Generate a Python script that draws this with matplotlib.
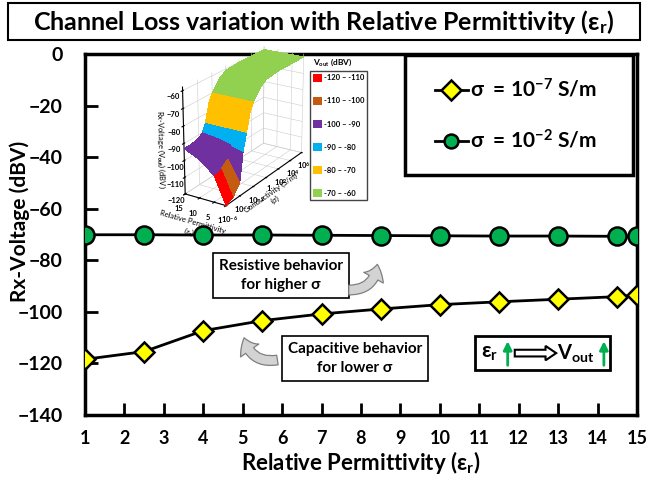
import matplotlib
matplotlib.use('Agg')
import matplotlib.pyplot as plt
import numpy as np
from matplotlib.colors import ListedColormap, BoundaryNorm
from matplotlib.patches import Rectangle, FancyArrow, FancyArrowPatch, Patch
from mpl_toolkits.mplot3d import Axes3D  # noqa

plt.rcParams['font.family'] = ['Lato', 'DejaVu Sans']
plt.rcParams['font.weight'] = 'bold'
plt.rcParams['mathtext.fontset'] = 'custom'
plt.rcParams['mathtext.rm'] = 'Lato:bold'
plt.rcParams['mathtext.it'] = 'Lato:bold'
plt.rcParams['mathtext.bf'] = 'Lato:bold'

# main chart data
eps_r = [1, 2.5, 4, 5.5, 7, 8.5, 10, 11.5, 13, 14.5, 15]
v_low_sigma = [-118.4, -115.4, -107.3, -103.4, -100.8, -98.9, -97.2, -96.1, -95.1, -94.1, -93.5]
v_high_sigma = [-70.1, -70.1, -70.2, -70.2, -70.3, -70.4, -70.5, -70.6, -70.6, -70.7, -70.7]
x_ticks = list(range(1, 16))
y_ticks = list(range(-140, 1, 20))

# inset surface data (log10 sigma vs eps_r)
inset_logsig = [-6, -5, -4, -3.5, -3, -2.5, -2, -1, 0, 2, 4, 6]
inset_eps = [1, 5, 10, 15]
inset_v = [
    [-120, -118, -112, -95, -85, -75, -70, -64, -61, -60, -60, -60],
    [-104, -103, -100, -93, -85, -75, -70, -64, -61, -60, -60, -60],
    [-97, -96, -95, -91, -85, -75, -70, -64, -61, -60, -60, -60],
    [-93, -93, -92, -90, -85, -75, -70, -64, -61, -60, -60, -60],
]
band_edges = [-120, -110, -100, -90, -80, -70, -60]
band_colors = ['#FF0000', '#C55A11', '#7030A0', '#00B0F0', '#FFC000', '#92D050']
band_labels = ['-120 \u2013 -110', '-110 \u2013 -100', '-100 \u2013 -90',
               '-90 \u2013 -80', '-80 \u2013 -70', '-70 \u2013 -60']

W, H = 646, 487
fig = plt.figure(figsize=(W / 100, H / 100), dpi=100)
ax = fig.add_axes([85 / W, 1 - 415 / H, (637 - 85) / W, (415 - 54) / H])

ax.plot(eps_r, v_high_sigma, '-', color='black', lw=2, marker='o', ms=13,
        mfc='#00B050', mec='black', mew=1.8, label='\u03c3  = 10$^{-2}$ S/m', zorder=4)
ax.plot(eps_r, v_low_sigma, '-', color='black', lw=2, marker='D', ms=10.5,
        mfc='#FFFF00', mec='black', mew=1.8, label='\u03c3  = 10$^{-7}$ S/m', zorder=4)

ax.set_xlim(1, 15)
ax.set_ylim(-140, 0)
ax.set_xticks(x_ticks)
ax.set_yticks(y_ticks)
ax.tick_params(axis='both', direction='in', length=9, width=2, labelsize=14)
ax.tick_params(axis='y', pad=16)
ax.tick_params(axis='x', pad=11, labelsize=13)
for s in ax.spines.values():
    s.set_linewidth(2.5)
for lbl in ax.get_xticklabels() + ax.get_yticklabels():
    lbl.set_fontweight('bold')
ax.set_xlabel('Relative Permittivity (\u03b5$_r$)', fontsize=16, fontweight='bold', labelpad=1)
ax.set_ylabel('Rx-Voltage (dBV)', fontsize=15, fontweight='bold')
ax.yaxis.set_label_coords(-0.1, 0.535)

# legend in its own box
ax.add_patch(Rectangle((0.58, 0.665), 0.413, 0.332, transform=ax.transAxes,
                       fc='white', ec='black', lw=2.5, zorder=6))
h, l = ax.get_legend_handles_labels()
leg = ax.legend(h[::-1], l[::-1], loc='center', bbox_to_anchor=(0.78, 0.831),
                handlelength=1.6, handletextpad=0.1, labelspacing=1.35,
                frameon=False, prop={'weight': 'bold', 'size': 15})
leg.set_zorder(7)
for hd in leg.legend_handles:
    hd.set_markersize(10)

# title
fig.patches.append(Rectangle((8 / W, 1 - 40 / H), 632 / W, 37 / H, transform=fig.transFigure,
                             fc='white', ec='black', lw=1.5))
fig.text(324 / W, 1 - 22 / H, 'Channel Loss variation with Relative Permittivity (\u03b5$_r$)',
         ha='center', va='center', fontsize=18, fontweight='bold')

# annotations
box = dict(boxstyle='square,pad=0.4', fc='white', ec='black', lw=1.2)
ax.text(5.97, -86, 'Resistive behavior\nfor higher \u03c3', ha='center', va='center',
        fontsize=11, fontweight='bold', bbox=box, linespacing=1.45)
ax.text(7.85, -118, 'Capacitive behavior\nfor lower \u03c3', ha='center', va='center',
        fontsize=11, fontweight='bold', bbox=box, linespacing=1.45)
arrow_style = 'simple,head_width=16,head_length=10,tail_width=7'
ax.add_patch(FancyArrowPatch((7.62, -91.5), (8.42, -80.5), connectionstyle='arc3,rad=0.5',
                             arrowstyle=arrow_style, fc='#D3D3D3', ec='#7F7F7F', lw=0.9,
                             mutation_scale=1, zorder=5))
ax.add_patch(FancyArrowPatch((5.95, -118.5), (5.02, -109), connectionstyle='arc3,rad=-0.5',
                             arrowstyle=arrow_style, fc='#D3D3D3', ec='#7F7F7F', lw=0.9,
                             mutation_scale=1, zorder=5))

# eps_r up => Vout up box
ax.add_patch(Rectangle((10.9, -122.6), 3.42, 13.2, fc='white', ec='black', lw=2, zorder=5))
ax.text(11.05, -116, '\u03b5$_r$', ha='left', va='center', fontsize=15, fontweight='bold', zorder=6)
ax.annotate('', xy=(11.72, -110.3), xytext=(11.72, -121.8),
            arrowprops=dict(arrowstyle='-|>,head_width=0.25,head_length=0.5', color='#00B050', lw=2), zorder=6)
ax.add_patch(FancyArrow(11.9, -116, 0.78, 0, width=2.6, head_width=5.6, head_length=0.27,
                        length_includes_head=False, fc='white', ec='black', lw=1.5, zorder=6))
ax.text(12.98, -116.3, 'V$_{out}$', ha='left', va='center', fontsize=14.5, fontweight='bold', zorder=6)
ax.annotate('', xy=(14.16, -110.3), xytext=(14.16, -121.8),
            arrowprops=dict(arrowstyle='-|>,head_width=0.25,head_length=0.5', color='#00B050', lw=2), zorder=6)

# 3D inset
ax3 = fig.add_axes([151 / W, 1 - 217 / H, 185 / W, 185 / H], projection='3d')
ax3.patch.set_alpha(0)
X, Y = np.meshgrid(inset_logsig, inset_eps)
Z = np.array(inset_v, dtype=float)
cmap = ListedColormap(band_colors)
norm = BoundaryNorm(band_edges, cmap.N)
ax3.plot_surface(X, Y, Z, cmap=cmap, norm=norm, edgecolor='none', shade=True,
                 antialiased=False)
ax3.view_init(elev=22, azim=-148)
ax3.set_box_aspect((1.4, 0.45, 1.05))
ax3.set_zlim(-120, -58)
ax3.set_xlim(-6, 6)
ax3.set_ylim(1, 15)
ax3.set_zticks([-120, -110, -100, -90, -80, -70, -60])
ax3.set_xticks([-6, -4, -2, 0, 2, 4, 6])
ax3.set_xticklabels(['10$^{-6}$', '10$^{-4}$', '10$^{-2}$', '1', '10$^{2}$', '10$^{4}$', '10$^{6}$'])
ax3.set_yticks([1, 5, 10, 15])
ax3.tick_params(labelsize=5.5, pad=-3)
ax3.set_xlabel('Conductivity (S/m)\n(\u03c3)', fontsize=5.5, labelpad=-9)
ax3.set_ylabel('Relative Permittivity\n(\u03b5$_r$)', fontsize=5.5, labelpad=-9)
ax3.set_zlabel('Rx-Voltage (V$_{out}$) (dBV)', fontsize=5.5, labelpad=-9)
for a in (ax3.xaxis, ax3.yaxis, ax3.zaxis):
    a.set_pane_color((1, 1, 1, 0))
    a._axinfo['grid']['color'] = '#cccccc'
    a._axinfo['grid']['linewidth'] = 0.4
    a.line.set_linewidth(0.8)

handles = [Patch(fc=c, ec='none') for c in band_colors]
fig.text(333 / W, 1 - 62 / H, 'V$_{out}$ (dBV)', ha='center', va='center', fontsize=6, fontweight='bold')
fig.legend(handles, band_labels, loc='upper left', bbox_to_anchor=(306 / W, 1 - 67 / H),
           labelspacing=2.0, handlelength=1.2, handleheight=1.2,
           handletextpad=0.2, borderpad=0.4, fancybox=False, framealpha=1,
           edgecolor='#444444', prop={'weight': 'bold', 'size': 5.5})

fig.savefig('out.png', dpi=100)
